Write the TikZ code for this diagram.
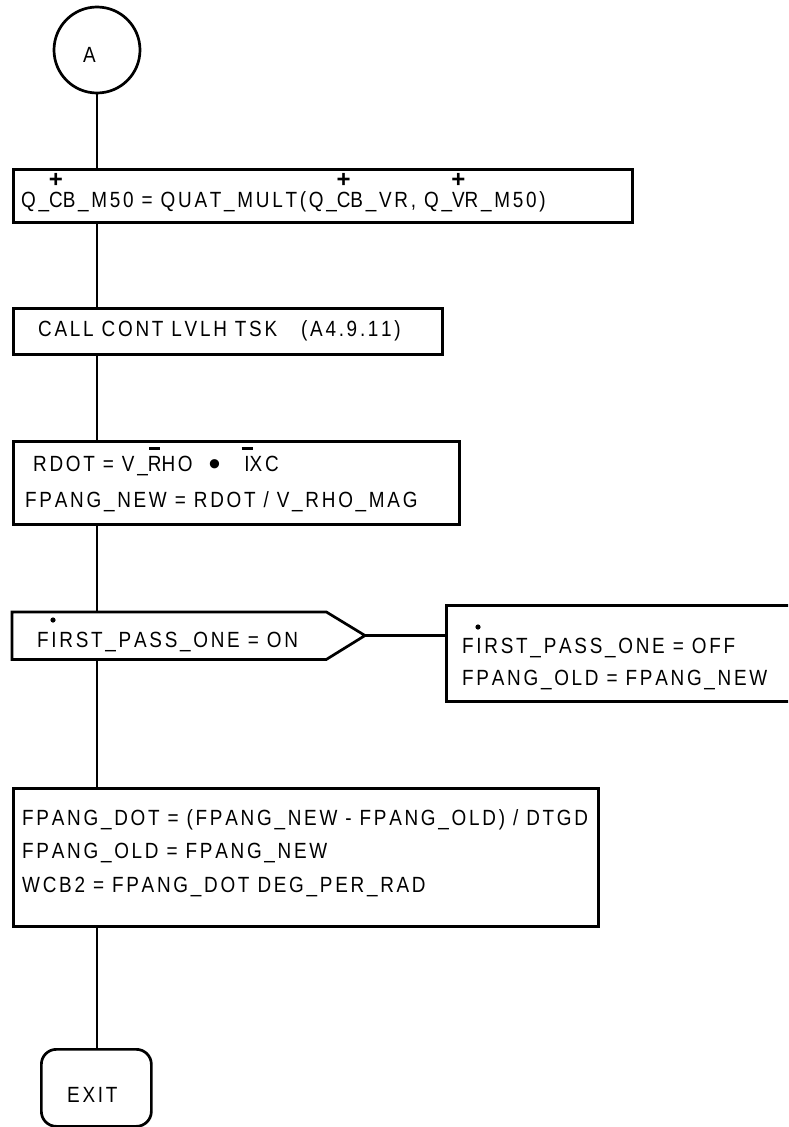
\documentclass[tikz,border=0pt]{standalone}
\usepackage{fontspec}
\setmainfont{Liberation Sans}[FakeStretch=0.86,LetterSpace=12.4,Kerning=Off]
\newfontfamily\plainsans{Liberation Sans}
\newcommand\ovl[3]{\setbox0=\hbox{#3}\rlap{\hbox to\wd0{\hss\raisebox{#1}{#2}\hss}}\box0}
\newcommand\plusmark{{\plainsans\bfseries\fontsize{24}{24}\selectfont +}}
\newcommand\barmark{\rule{11pt}{3pt}}
\newcommand\bulletmark{{\plainsans\fontsize{34}{34}\selectfont\raisebox{-4.5pt}{•}}}
\begin{document}
\begin{tikzpicture}[x=1pt,y=-1pt,
  txt/.style={anchor=base west, inner sep=0pt, font=\fontsize{22}{26}\selectfont},
  boxst/.style={draw, rectangle, anchor=north west, inner sep=0pt, line width=2.7pt},
  shapeonly/.style={rectangle, anchor=north west, inner sep=0pt},
  link/.style={draw, line width=2.7pt},
  dotmk/.style={fill=black}]
\clip (0,0) rectangle (788,1127);

% connector A
\node[circle, draw, line width=2.7pt, minimum size=86, inner sep=0pt] (A) at (97,50) {};
\node[txt] (Atxt) at (83,62) {A};

% box 1
\node[boxst, minimum width=619, minimum height=53] (b1) at (12,168) {};
\node[txt] (t1) at (21,207) {Q\_\ovl{20pt}{\plusmark}{C}B\_M50 = QUAT\_MULT(Q\_\ovl{20pt}{\plusmark}{C}B\_VR, Q\_\ovl{20pt}{\plusmark}{V}R\_M50)};

% box 2
\node[boxst, minimum width=429, minimum height=46] (b2) at (12,307) {};
\node[txt] (t2) at (38,336) {CALL CONT LVLH TSK\ \ \ (A4.9.11)};

% box 3
\node[boxst, minimum width=446, minimum height=83] (b3) at (12,440) {};
\node[txt] (t3a) at (33,471) {RDOT = V\_\ovl{21pt}{\barmark}{R}HO\ \ \bulletmark\ \ \ \ovl{21pt}{\barmark}{I}XC};
\node[txt] (t3b) at (25,507) {FPANG\_NEW = RDOT / V\_RHO\_MAG};

% decision
\node[shapeonly, minimum width=314, minimum height=47] (dec) at (12,612) {};
\coordinate (dtip) at (365,635.5);
\draw[line width=2.7pt] (dec.north west) -- (dec.north east) -- (dtip) -- (dec.south east) -- (dec.south west) -- cycle;
\node[txt] (t4) at (37,647) {FIRST\_PASS\_ONE = ON};
\fill[dotmk] (53,620) circle (2.6);

% right box
\node[boxst, minimum width=355, minimum height=96] (rb) at (445,604) {};
\node[txt] (t5a) at (462,653) {FIRST\_PASS\_ONE = OFF};
\node[txt] (t5b) at (462,685) {FPANG\_OLD = FPANG\_NEW};
\fill[dotmk] (478,627) circle (2.6);

% box 5
\node[boxst, minimum width=585, minimum height=138] (b5) at (12,787) {};
\node[txt] (t6a) at (22,825) {FPANG\_DOT = (FPANG\_NEW - FPANG\_OLD) / DTGD};
\node[txt] (t6b) at (22,858) {FPANG\_OLD = FPANG\_NEW};
\node[txt] (t6c) at (22,892) {WCB2 = FPANG\_DOT DEG\_PER\_RAD};

% exit
\node[draw, rectangle, rounded corners=15pt, line width=2.7pt, anchor=north west, inner sep=0pt, minimum width=110, minimum height=77] (exit) at (40,1048) {};
\node[txt] (tx) at (67,1102) {EXIT};

% connectors
\draw[link] (A.south) -- (b1.north -| A.south);
\draw[link] (b1.south -| A.south) -- (b2.north -| A.south);
\draw[link] (b2.south -| A.south) -- (b3.north -| A.south);
\draw[link] (b3.south -| A.south) -- (dec.north -| A.south);
\draw[link] (dec.south -| A.south) -- (b5.north -| A.south);
\draw[link] (b5.south -| A.south) -- (exit.north -| A.south);
\draw[link] (dtip) -- (dtip -| rb.west);
\end{tikzpicture}
\end{document}
